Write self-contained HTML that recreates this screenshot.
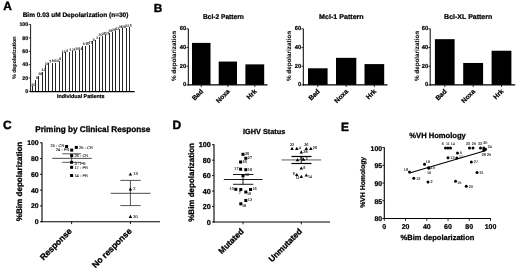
<!DOCTYPE html>
<html><head><meta charset="utf-8"><title>Figure</title>
<style>
html,body{margin:0;padding:0;background:#fff;}
body{width:520px;height:274px;overflow:hidden;font-family:"Liberation Sans",Arial,sans-serif;}
svg{display:block;}
svg text{font-family:"Liberation Sans",Arial,sans-serif;text-rendering:geometricPrecision;}
</style></head><body>
<svg width="520" height="274" viewBox="0 0 520 274">
<rect x="0" y="0" width="520" height="274" fill="#fff"/>
<text x="3.2" y="10.3" font-size="11.9" font-weight="bold" text-anchor="start" fill="#000" stroke="#000" stroke-width="0.417">A</text>
<text x="153.7" y="12.1" font-size="11.8" font-weight="bold" text-anchor="start" fill="#000" stroke="#000" stroke-width="0.413">B</text>
<text x="3.0" y="129.2" font-size="12.0" font-weight="bold" text-anchor="start" fill="#000" stroke="#000" stroke-width="0.420">C</text>
<text x="172.4" y="129.1" font-size="12.0" font-weight="bold" text-anchor="start" fill="#000" stroke="#000" stroke-width="0.420">D</text>
<text x="341.0" y="130.9" font-size="11.9" font-weight="bold" text-anchor="start" fill="#000" stroke="#000" stroke-width="0.417">E</text>
<text x="75.5" y="16.8" font-size="6.5" font-weight="bold" text-anchor="middle" fill="#000" stroke="#000" stroke-width="0.228">Bim 0.03 uM Depolarization (n=30)</text>
<line x1="30.6" y1="24.3" x2="30.6" y2="91.80000000000001" stroke="#000" stroke-width="0.9"/>
<line x1="30.200000000000003" y1="91.5" x2="134.6" y2="91.5" stroke="#000" stroke-width="1.25"/>
<line x1="28.6" y1="91.4" x2="30.6" y2="91.4" stroke="#000" stroke-width="0.7"/>
<text x="28.1" y="93.2" font-size="5.2" font-weight="bold" text-anchor="end" fill="#000" stroke="#000" stroke-width="0.182">0</text>
<line x1="28.6" y1="78.04" x2="30.6" y2="78.04" stroke="#000" stroke-width="0.7"/>
<text x="28.1" y="79.84" font-size="5.2" font-weight="bold" text-anchor="end" fill="#000" stroke="#000" stroke-width="0.182">20</text>
<line x1="28.6" y1="64.68" x2="30.6" y2="64.68" stroke="#000" stroke-width="0.7"/>
<text x="28.1" y="66.48" font-size="5.2" font-weight="bold" text-anchor="end" fill="#000" stroke="#000" stroke-width="0.182">40</text>
<line x1="28.6" y1="51.31999999999999" x2="30.6" y2="51.31999999999999" stroke="#000" stroke-width="0.7"/>
<text x="28.1" y="53.11999999999999" font-size="5.2" font-weight="bold" text-anchor="end" fill="#000" stroke="#000" stroke-width="0.182">60</text>
<line x1="28.6" y1="37.959999999999994" x2="30.6" y2="37.959999999999994" stroke="#000" stroke-width="0.7"/>
<text x="28.1" y="39.75999999999999" font-size="5.2" font-weight="bold" text-anchor="end" fill="#000" stroke="#000" stroke-width="0.182">80</text>
<line x1="28.6" y1="24.599999999999994" x2="30.6" y2="24.599999999999994" stroke="#000" stroke-width="0.7"/>
<text x="28.1" y="26.399999999999995" font-size="5.2" font-weight="bold" text-anchor="end" fill="#000" stroke="#000" stroke-width="0.182">100</text>
<text x="16.5" y="57.8" font-size="5.35" font-weight="bold" text-anchor="middle" fill="#000" transform="rotate(-90 16.5 57.8)" stroke="#000" stroke-width="0.064">% depolarization</text>
<text x="80.8" y="98.2" font-size="5.4" font-weight="bold" text-anchor="middle" fill="#000" stroke="#000" stroke-width="0.189">Individual Patients</text>
<rect x="31.70" y="86.40" width="1" height="5.00" fill="#262626" shape-rendering="crispEdges"/>
<text x="33.5" y="85.60000000000001" font-size="3.5" font-weight="normal" text-anchor="middle" fill="#111" stroke="#111" stroke-width="0.12">30</text>
<rect x="35.05" y="80.20" width="1" height="11.20" fill="#262626" shape-rendering="crispEdges"/>
<text x="36.85" y="79.4" font-size="3.5" font-weight="normal" text-anchor="middle" fill="#111" stroke="#111" stroke-width="0.12">9</text>
<rect x="38.40" y="75.70" width="1" height="15.70" fill="#262626" shape-rendering="crispEdges"/>
<text x="40.2" y="74.9" font-size="3.5" font-weight="normal" text-anchor="middle" fill="#111" stroke="#111" stroke-width="0.12">18</text>
<rect x="41.75" y="71.60" width="1" height="19.80" fill="#262626" shape-rendering="crispEdges"/>
<text x="43.55" y="70.8" font-size="3.5" font-weight="normal" text-anchor="middle" fill="#111" stroke="#111" stroke-width="0.12">12</text>
<rect x="45.10" y="65.30" width="1" height="26.10" fill="#262626" shape-rendering="crispEdges"/>
<text x="46.9" y="64.5" font-size="3.5" font-weight="normal" text-anchor="middle" fill="#111" stroke="#111" stroke-width="0.12">19</text>
<rect x="48.45" y="63.30" width="1" height="28.10" fill="#262626" shape-rendering="crispEdges"/>
<text x="50.25" y="62.5" font-size="3.5" font-weight="normal" text-anchor="middle" fill="#111" stroke="#111" stroke-width="0.12">7</text>
<rect x="51.80" y="63.10" width="1" height="28.30" fill="#262626" shape-rendering="crispEdges"/>
<text x="53.6" y="62.300000000000004" font-size="3.5" font-weight="normal" text-anchor="middle" fill="#111" stroke="#111" stroke-width="0.12">16</text>
<rect x="55.15" y="62.80" width="1" height="28.60" fill="#262626" shape-rendering="crispEdges"/>
<text x="56.95" y="62.0" font-size="3.5" font-weight="normal" text-anchor="middle" fill="#111" stroke="#111" stroke-width="0.12">10</text>
<rect x="58.50" y="61.00" width="1" height="30.40" fill="#262626" shape-rendering="crispEdges"/>
<text x="60.3" y="60.2" font-size="3.5" font-weight="normal" text-anchor="middle" fill="#111" stroke="#111" stroke-width="0.12">8</text>
<rect x="61.85" y="53.40" width="1" height="38.00" fill="#262626" shape-rendering="crispEdges"/>
<text x="63.650000000000006" y="52.6" font-size="3.5" font-weight="normal" text-anchor="middle" fill="#111" stroke="#111" stroke-width="0.12">13</text>
<rect x="65.20" y="52.30" width="1" height="39.10" fill="#262626" shape-rendering="crispEdges"/>
<text x="67.0" y="51.5" font-size="3.5" font-weight="normal" text-anchor="middle" fill="#111" stroke="#111" stroke-width="0.12">4</text>
<rect x="68.55" y="51.70" width="1" height="39.70" fill="#262626" shape-rendering="crispEdges"/>
<text x="70.35000000000001" y="50.900000000000006" font-size="3.5" font-weight="normal" text-anchor="middle" fill="#111" stroke="#111" stroke-width="0.12">1</text>
<rect x="71.90" y="51.30" width="1" height="40.10" fill="#262626" shape-rendering="crispEdges"/>
<text x="73.7" y="50.5" font-size="3.5" font-weight="normal" text-anchor="middle" fill="#111" stroke="#111" stroke-width="0.12">21</text>
<rect x="75.25" y="50.90" width="1" height="40.50" fill="#262626" shape-rendering="crispEdges"/>
<text x="77.05" y="50.1" font-size="3.5" font-weight="normal" text-anchor="middle" fill="#111" stroke="#111" stroke-width="0.12">11</text>
<rect x="78.60" y="50.40" width="1" height="41.00" fill="#262626" shape-rendering="crispEdges"/>
<text x="80.39999999999999" y="49.6" font-size="3.5" font-weight="normal" text-anchor="middle" fill="#111" stroke="#111" stroke-width="0.12">14</text>
<rect x="81.95" y="46.20" width="1" height="45.20" fill="#262626" shape-rendering="crispEdges"/>
<text x="83.75" y="45.400000000000006" font-size="3.5" font-weight="normal" text-anchor="middle" fill="#111" stroke="#111" stroke-width="0.12">6</text>
<rect x="85.30" y="45.60" width="1" height="45.80" fill="#262626" shape-rendering="crispEdges"/>
<text x="87.10000000000001" y="44.800000000000004" font-size="3.5" font-weight="normal" text-anchor="middle" fill="#111" stroke="#111" stroke-width="0.12">15</text>
<rect x="88.65" y="44.80" width="1" height="46.60" fill="#262626" shape-rendering="crispEdges"/>
<text x="90.45" y="44.0" font-size="3.5" font-weight="normal" text-anchor="middle" fill="#111" stroke="#111" stroke-width="0.12">17</text>
<rect x="92.00" y="41.30" width="1" height="50.10" fill="#262626" shape-rendering="crispEdges"/>
<text x="93.8" y="40.5" font-size="3.5" font-weight="normal" text-anchor="middle" fill="#111" stroke="#111" stroke-width="0.12">3</text>
<rect x="95.35" y="39.60" width="1" height="51.80" fill="#262626" shape-rendering="crispEdges"/>
<text x="97.14999999999999" y="38.800000000000004" font-size="3.5" font-weight="normal" text-anchor="middle" fill="#111" stroke="#111" stroke-width="0.12">2</text>
<rect x="98.70" y="36.70" width="1" height="54.70" fill="#262626" shape-rendering="crispEdges"/>
<text x="100.5" y="35.900000000000006" font-size="3.5" font-weight="normal" text-anchor="middle" fill="#111" stroke="#111" stroke-width="0.12">20</text>
<rect x="102.05" y="36.10" width="1" height="55.30" fill="#262626" shape-rendering="crispEdges"/>
<text x="103.85000000000001" y="35.300000000000004" font-size="3.5" font-weight="normal" text-anchor="middle" fill="#111" stroke="#111" stroke-width="0.12">25</text>
<rect x="105.40" y="35.30" width="1" height="56.10" fill="#262626" shape-rendering="crispEdges"/>
<text x="107.2" y="34.5" font-size="3.5" font-weight="normal" text-anchor="middle" fill="#111" stroke="#111" stroke-width="0.12">27</text>
<rect x="108.75" y="32.60" width="1" height="58.80" fill="#262626" shape-rendering="crispEdges"/>
<text x="110.55" y="31.8" font-size="3.5" font-weight="normal" text-anchor="middle" fill="#111" stroke="#111" stroke-width="0.12">28</text>
<rect x="112.10" y="32.00" width="1" height="59.40" fill="#262626" shape-rendering="crispEdges"/>
<text x="113.9" y="31.2" font-size="3.5" font-weight="normal" text-anchor="middle" fill="#111" stroke="#111" stroke-width="0.12">29</text>
<rect x="115.45" y="30.60" width="1" height="60.80" fill="#262626" shape-rendering="crispEdges"/>
<text x="117.25" y="29.8" font-size="3.5" font-weight="normal" text-anchor="middle" fill="#111" stroke="#111" stroke-width="0.12">12</text>
<rect x="118.80" y="28.50" width="1" height="62.90" fill="#262626" shape-rendering="crispEdges"/>
<text x="120.60000000000001" y="27.7" font-size="3.5" font-weight="normal" text-anchor="middle" fill="#111" stroke="#111" stroke-width="0.12">24</text>
<rect x="122.15" y="28.30" width="1" height="63.10" fill="#262626" shape-rendering="crispEdges"/>
<text x="123.95" y="27.5" font-size="3.5" font-weight="normal" text-anchor="middle" fill="#111" stroke="#111" stroke-width="0.12">26</text>
<rect x="125.50" y="27.90" width="1" height="63.50" fill="#262626" shape-rendering="crispEdges"/>
<text x="127.3" y="27.099999999999998" font-size="3.5" font-weight="normal" text-anchor="middle" fill="#111" stroke="#111" stroke-width="0.12">22</text>
<rect x="128.85" y="27.30" width="1" height="64.10" fill="#262626" shape-rendering="crispEdges"/>
<text x="130.65000000000003" y="26.5" font-size="3.5" font-weight="normal" text-anchor="middle" fill="#111" stroke="#111" stroke-width="0.12">5</text>
<text x="223.4" y="19.4" font-size="6.9" font-weight="bold" text-anchor="middle" fill="#000" textLength="40.8" lengthAdjust="spacingAndGlyphs" stroke="#000" stroke-width="0.242">Bcl-2 Pattern</text>
<line x1="188.3" y1="28.599999999999998" x2="188.3" y2="85.4" stroke="#000" stroke-width="1.0"/>
<line x1="187.8" y1="84.9" x2="267.5" y2="84.9" stroke="#000" stroke-width="1.1"/>
<line x1="186.4" y1="84.9" x2="188.3" y2="84.9" stroke="#000" stroke-width="0.8"/>
<text x="186.3" y="86.4" font-size="5.8" font-weight="bold" text-anchor="end" fill="#000" stroke="#000" stroke-width="0.203">0</text>
<line x1="186.4" y1="66.23333333333333" x2="188.3" y2="66.23333333333333" stroke="#000" stroke-width="0.8"/>
<text x="186.3" y="67.73333333333333" font-size="5.8" font-weight="bold" text-anchor="end" fill="#000" stroke="#000" stroke-width="0.203">20</text>
<line x1="186.4" y1="47.56666666666667" x2="188.3" y2="47.56666666666667" stroke="#000" stroke-width="0.8"/>
<text x="186.3" y="49.06666666666667" font-size="5.8" font-weight="bold" text-anchor="end" fill="#000" stroke="#000" stroke-width="0.203">40</text>
<line x1="186.4" y1="28.9" x2="188.3" y2="28.9" stroke="#000" stroke-width="0.8"/>
<text x="186.3" y="30.4" font-size="5.8" font-weight="bold" text-anchor="end" fill="#000" stroke="#000" stroke-width="0.203">60</text>
<text x="176.3" y="56" font-size="6.3" font-weight="bold" text-anchor="middle" fill="#000" transform="rotate(-90 176.3 56)" stroke="#000" stroke-width="0.076">% depolarization</text>
<rect x="192.00" y="42.90" width="18.50" height="42.00" fill="#000"/>
<line x1="201.25" y1="84.9" x2="201.25" y2="87.10000000000001" stroke="#000" stroke-width="0.8"/>
<text x="203.65" y="91.9" font-size="6.7" font-weight="bold" text-anchor="end" fill="#000" transform="rotate(-45 203.65 91.9)" stroke="#000" stroke-width="0.235">Bad</text>
<rect x="218.70" y="61.57" width="18.30" height="23.33" fill="#000"/>
<line x1="227.85" y1="84.9" x2="227.85" y2="87.10000000000001" stroke="#000" stroke-width="0.8"/>
<text x="230.25" y="91.9" font-size="6.7" font-weight="bold" text-anchor="end" fill="#000" transform="rotate(-45 230.25 91.9)" stroke="#000" stroke-width="0.235">Noxa</text>
<rect x="245.40" y="64.37" width="18.80" height="20.53" fill="#000"/>
<line x1="254.8" y1="84.9" x2="254.8" y2="87.10000000000001" stroke="#000" stroke-width="0.8"/>
<text x="257.2" y="91.9" font-size="6.7" font-weight="bold" text-anchor="end" fill="#000" transform="rotate(-45 257.2 91.9)" stroke="#000" stroke-width="0.235">Hrk</text>
<text x="341.4" y="19.4" font-size="6.9" font-weight="bold" text-anchor="middle" fill="#000" textLength="44.6" lengthAdjust="spacingAndGlyphs" stroke="#000" stroke-width="0.242">Mcl-1 Pattern</text>
<line x1="303.3" y1="28.599999999999998" x2="303.3" y2="85.4" stroke="#000" stroke-width="1.0"/>
<line x1="302.8" y1="84.9" x2="387.5" y2="84.9" stroke="#000" stroke-width="1.1"/>
<line x1="301.40000000000003" y1="84.9" x2="303.3" y2="84.9" stroke="#000" stroke-width="0.8"/>
<text x="301.3" y="86.4" font-size="5.8" font-weight="bold" text-anchor="end" fill="#000" stroke="#000" stroke-width="0.203">0</text>
<line x1="301.40000000000003" y1="66.23333333333333" x2="303.3" y2="66.23333333333333" stroke="#000" stroke-width="0.8"/>
<text x="301.3" y="67.73333333333333" font-size="5.8" font-weight="bold" text-anchor="end" fill="#000" stroke="#000" stroke-width="0.203">20</text>
<line x1="301.40000000000003" y1="47.56666666666667" x2="303.3" y2="47.56666666666667" stroke="#000" stroke-width="0.8"/>
<text x="301.3" y="49.06666666666667" font-size="5.8" font-weight="bold" text-anchor="end" fill="#000" stroke="#000" stroke-width="0.203">40</text>
<line x1="301.40000000000003" y1="28.9" x2="303.3" y2="28.9" stroke="#000" stroke-width="0.8"/>
<text x="301.3" y="30.4" font-size="5.8" font-weight="bold" text-anchor="end" fill="#000" stroke="#000" stroke-width="0.203">60</text>
<text x="290.6" y="56" font-size="6.3" font-weight="bold" text-anchor="middle" fill="#000" transform="rotate(-90 290.6 56)" stroke="#000" stroke-width="0.076">% depolarization</text>
<rect x="308.00" y="68.29" width="19.60" height="16.61" fill="#000"/>
<line x1="317.8" y1="84.9" x2="317.8" y2="87.10000000000001" stroke="#000" stroke-width="0.8"/>
<text x="320.2" y="91.9" font-size="6.7" font-weight="bold" text-anchor="end" fill="#000" transform="rotate(-45 320.2 91.9)" stroke="#000" stroke-width="0.235">Bad</text>
<rect x="336.00" y="57.83" width="20.30" height="27.07" fill="#000"/>
<line x1="346.15" y1="84.9" x2="346.15" y2="87.10000000000001" stroke="#000" stroke-width="0.8"/>
<text x="348.54999999999995" y="91.9" font-size="6.7" font-weight="bold" text-anchor="end" fill="#000" transform="rotate(-45 348.54999999999995 91.9)" stroke="#000" stroke-width="0.235">Noxa</text>
<rect x="364.50" y="64.09" width="19.70" height="20.81" fill="#000"/>
<line x1="374.35" y1="84.9" x2="374.35" y2="87.10000000000001" stroke="#000" stroke-width="0.8"/>
<text x="376.75" y="91.9" font-size="6.7" font-weight="bold" text-anchor="end" fill="#000" transform="rotate(-45 376.75 91.9)" stroke="#000" stroke-width="0.235">Hrk</text>
<text x="468.2" y="19.4" font-size="6.9" font-weight="bold" text-anchor="middle" fill="#000" textLength="48.2" lengthAdjust="spacingAndGlyphs" stroke="#000" stroke-width="0.242">Bcl-XL Pattern</text>
<line x1="430.2" y1="28.599999999999998" x2="430.2" y2="85.4" stroke="#000" stroke-width="1.0"/>
<line x1="429.7" y1="84.9" x2="515.2" y2="84.9" stroke="#000" stroke-width="1.1"/>
<line x1="428.3" y1="84.9" x2="430.2" y2="84.9" stroke="#000" stroke-width="0.8"/>
<text x="428.2" y="86.4" font-size="5.8" font-weight="bold" text-anchor="end" fill="#000" stroke="#000" stroke-width="0.203">0</text>
<line x1="428.3" y1="66.23333333333333" x2="430.2" y2="66.23333333333333" stroke="#000" stroke-width="0.8"/>
<text x="428.2" y="67.73333333333333" font-size="5.8" font-weight="bold" text-anchor="end" fill="#000" stroke="#000" stroke-width="0.203">20</text>
<line x1="428.3" y1="47.56666666666667" x2="430.2" y2="47.56666666666667" stroke="#000" stroke-width="0.8"/>
<text x="428.2" y="49.06666666666667" font-size="5.8" font-weight="bold" text-anchor="end" fill="#000" stroke="#000" stroke-width="0.203">40</text>
<line x1="428.3" y1="28.9" x2="430.2" y2="28.9" stroke="#000" stroke-width="0.8"/>
<text x="428.2" y="30.4" font-size="5.8" font-weight="bold" text-anchor="end" fill="#000" stroke="#000" stroke-width="0.203">60</text>
<text x="418.8" y="56" font-size="6.3" font-weight="bold" text-anchor="middle" fill="#000" transform="rotate(-90 418.8 56)" stroke="#000" stroke-width="0.076">% depolarization</text>
<rect x="434.90" y="39.17" width="19.70" height="45.73" fill="#000"/>
<line x1="444.75" y1="84.9" x2="444.75" y2="87.10000000000001" stroke="#000" stroke-width="0.8"/>
<text x="447.15" y="91.9" font-size="6.7" font-weight="bold" text-anchor="end" fill="#000" transform="rotate(-45 447.15 91.9)" stroke="#000" stroke-width="0.235">Bad</text>
<rect x="463.20" y="62.97" width="19.90" height="21.93" fill="#000"/>
<line x1="473.15" y1="84.9" x2="473.15" y2="87.10000000000001" stroke="#000" stroke-width="0.8"/>
<text x="475.54999999999995" y="91.9" font-size="6.7" font-weight="bold" text-anchor="end" fill="#000" transform="rotate(-45 475.54999999999995 91.9)" stroke="#000" stroke-width="0.235">Noxa</text>
<rect x="491.60" y="50.74" width="19.80" height="34.16" fill="#000"/>
<line x1="501.5" y1="84.9" x2="501.5" y2="87.10000000000001" stroke="#000" stroke-width="0.8"/>
<text x="503.9" y="91.9" font-size="6.7" font-weight="bold" text-anchor="end" fill="#000" transform="rotate(-45 503.9 91.9)" stroke="#000" stroke-width="0.235">Hrk</text>
<text x="92.8" y="131.6" font-size="8.3" font-weight="bold" text-anchor="middle" fill="#000" textLength="115.2" lengthAdjust="spacingAndGlyphs" stroke="#000" stroke-width="0.291">Priming by Clinical Response</text>
<line x1="42.0" y1="142.4" x2="42.0" y2="222.2" stroke="#000" stroke-width="1.1"/>
<line x1="41.5" y1="221.7" x2="160" y2="221.7" stroke="#000" stroke-width="1.1"/>
<line x1="40.0" y1="221.7" x2="42.0" y2="221.7" stroke="#000" stroke-width="0.9"/>
<text x="38.7" y="224.2" font-size="6.9" font-weight="bold" text-anchor="end" fill="#000" stroke="#000" stroke-width="0.242">0</text>
<line x1="40.0" y1="205.92" x2="42.0" y2="205.92" stroke="#000" stroke-width="0.9"/>
<text x="38.7" y="208.42" font-size="6.9" font-weight="bold" text-anchor="end" fill="#000" stroke="#000" stroke-width="0.242">20</text>
<line x1="40.0" y1="190.14" x2="42.0" y2="190.14" stroke="#000" stroke-width="0.9"/>
<text x="38.7" y="192.64" font-size="6.9" font-weight="bold" text-anchor="end" fill="#000" stroke="#000" stroke-width="0.242">40</text>
<line x1="40.0" y1="174.36" x2="42.0" y2="174.36" stroke="#000" stroke-width="0.9"/>
<text x="38.7" y="176.86" font-size="6.9" font-weight="bold" text-anchor="end" fill="#000" stroke="#000" stroke-width="0.242">60</text>
<line x1="40.0" y1="158.58" x2="42.0" y2="158.58" stroke="#000" stroke-width="0.9"/>
<text x="38.7" y="161.08" font-size="6.9" font-weight="bold" text-anchor="end" fill="#000" stroke="#000" stroke-width="0.242">80</text>
<line x1="40.0" y1="142.8" x2="42.0" y2="142.8" stroke="#000" stroke-width="0.9"/>
<text x="38.7" y="145.3" font-size="6.9" font-weight="bold" text-anchor="end" fill="#000" stroke="#000" stroke-width="0.242">100</text>
<text x="22.0" y="181.5" font-size="8.1" font-weight="bold" text-anchor="middle" fill="#000" transform="rotate(-90 22.0 181.5)" stroke="#000" stroke-width="0.284">%Bim depolarization</text>
<line x1="52.2" y1="158.35" x2="91.7" y2="158.35" stroke="#2a2a2a" stroke-width="0.85"/>
<line x1="62.3" y1="153.8" x2="81" y2="153.8" stroke="#2a2a2a" stroke-width="0.8"/>
<line x1="62.3" y1="162.3" x2="81" y2="162.3" stroke="#2a2a2a" stroke-width="0.8"/>
<line x1="71.6" y1="153.8" x2="71.6" y2="162.3" stroke="#2a2a2a" stroke-width="0.8"/>
<rect x="65.10" y="145.00" width="3.00" height="3.00" fill="#000"/>
<text x="64.3" y="147.4" font-size="4.0" font-weight="normal" text-anchor="end" fill="#222" stroke="#222" stroke-width="0.1">25 - CR</text>
<rect x="74.80" y="145.90" width="3.00" height="3.00" fill="#000"/>
<text x="79.1" y="148.8" font-size="4.0" font-weight="normal" text-anchor="start" fill="#222" stroke="#222" stroke-width="0.1">26 - CR</text>
<rect x="70.20" y="148.60" width="3.00" height="3.00" fill="#000"/>
<text x="69.39999999999999" y="151.0" font-size="4.0" font-weight="normal" text-anchor="end" fill="#222" stroke="#222" stroke-width="0.1">24 - PR</text>
<rect x="70.10" y="154.10" width="3.00" height="3.00" fill="#000"/>
<text x="74.39999999999999" y="157.0" font-size="4.0" font-weight="normal" text-anchor="start" fill="#222" stroke="#222" stroke-width="0.1">28 - CR</text>
<rect x="70.10" y="160.80" width="3.00" height="3.00" fill="#000"/>
<text x="74.39999999999999" y="164.9" font-size="4.0" font-weight="normal" text-anchor="start" fill="#222" stroke="#222" stroke-width="0.1">3 - PR</text>
<rect x="70.10" y="165.80" width="3.00" height="3.00" fill="#000"/>
<text x="74.39999999999999" y="168.70000000000002" font-size="4.0" font-weight="normal" text-anchor="start" fill="#222" stroke="#222" stroke-width="0.1">17 - PR</text>
<rect x="70.10" y="174.00" width="3.00" height="3.00" fill="#000"/>
<text x="74.39999999999999" y="176.9" font-size="4.0" font-weight="normal" text-anchor="start" fill="#222" stroke="#222" stroke-width="0.1">14 - PR</text>
<line x1="110.8" y1="193.3" x2="150.5" y2="193.3" stroke="#2a2a2a" stroke-width="0.85"/>
<line x1="120.3" y1="180.4" x2="140.6" y2="180.4" stroke="#2a2a2a" stroke-width="0.8"/>
<line x1="120.3" y1="205.6" x2="140.6" y2="205.6" stroke="#2a2a2a" stroke-width="0.8"/>
<line x1="130.4" y1="180.4" x2="130.4" y2="205.6" stroke="#2a2a2a" stroke-width="0.8"/>
<polygon points="130.40,172.43 128.65,175.57 132.15,175.57" fill="#000"/>
<text x="133.3" y="175.2" font-size="4.0" font-weight="normal" text-anchor="start" fill="#222" stroke="#222" stroke-width="0.1">13</text>
<polygon points="130.40,187.23 128.65,190.38 132.15,190.38" fill="#000"/>
<text x="133.3" y="190.0" font-size="4.0" font-weight="normal" text-anchor="start" fill="#222" stroke="#222" stroke-width="0.1">2</text>
<polygon points="130.40,214.73 128.65,217.88 132.15,217.88" fill="#000"/>
<text x="133.3" y="217.5" font-size="4.0" font-weight="normal" text-anchor="start" fill="#222" stroke="#222" stroke-width="0.1">30</text>
<line x1="71.6" y1="221.7" x2="71.6" y2="224.1" stroke="#000" stroke-width="0.9"/>
<text x="72.5" y="231.7" font-size="8.6" font-weight="bold" text-anchor="end" fill="#000" transform="rotate(-45 72.5 231.7)" stroke="#000" stroke-width="0.301">Response</text>
<line x1="130.4" y1="221.7" x2="130.4" y2="224.1" stroke="#000" stroke-width="0.9"/>
<text x="132.3" y="231.7" font-size="8.6" font-weight="bold" text-anchor="end" fill="#000" transform="rotate(-45 132.3 231.7)" stroke="#000" stroke-width="0.301">No response</text>
<text x="264.2" y="134.0" font-size="7.3" font-weight="bold" text-anchor="middle" fill="#000" textLength="42.2" lengthAdjust="spacingAndGlyphs" stroke="#000" stroke-width="0.256">IGHV Status</text>
<line x1="214.0" y1="144.29999999999998" x2="214.0" y2="222.5" stroke="#000" stroke-width="1.1"/>
<line x1="213.5" y1="222.0" x2="330" y2="222.0" stroke="#000" stroke-width="1.1"/>
<line x1="212.0" y1="222.0" x2="214.0" y2="222.0" stroke="#000" stroke-width="0.9"/>
<text x="210.8" y="224.6" font-size="7.2" font-weight="bold" text-anchor="end" fill="#000" stroke="#000" stroke-width="0.252">0</text>
<line x1="212.0" y1="206.54" x2="214.0" y2="206.54" stroke="#000" stroke-width="0.9"/>
<text x="210.8" y="209.14" font-size="7.2" font-weight="bold" text-anchor="end" fill="#000" stroke="#000" stroke-width="0.252">20</text>
<line x1="212.0" y1="191.07999999999998" x2="214.0" y2="191.07999999999998" stroke="#000" stroke-width="0.9"/>
<text x="210.8" y="193.67999999999998" font-size="7.2" font-weight="bold" text-anchor="end" fill="#000" stroke="#000" stroke-width="0.252">40</text>
<line x1="212.0" y1="175.62" x2="214.0" y2="175.62" stroke="#000" stroke-width="0.9"/>
<text x="210.8" y="178.22" font-size="7.2" font-weight="bold" text-anchor="end" fill="#000" stroke="#000" stroke-width="0.252">60</text>
<line x1="212.0" y1="160.16" x2="214.0" y2="160.16" stroke="#000" stroke-width="0.9"/>
<text x="210.8" y="162.76" font-size="7.2" font-weight="bold" text-anchor="end" fill="#000" stroke="#000" stroke-width="0.252">80</text>
<line x1="212.0" y1="144.7" x2="214.0" y2="144.7" stroke="#000" stroke-width="0.9"/>
<text x="210.8" y="147.29999999999998" font-size="7.2" font-weight="bold" text-anchor="end" fill="#000" stroke="#000" stroke-width="0.252">100</text>
<text x="194.2" y="182.4" font-size="8.0" font-weight="bold" text-anchor="middle" fill="#000" transform="rotate(-90 194.2 182.4)" stroke="#000" stroke-width="0.280">%Bim depolarization</text>
<line x1="223.8" y1="179.5" x2="262.5" y2="179.5" stroke="#000" stroke-width="0.9"/>
<line x1="233" y1="174.5" x2="253.3" y2="174.5" stroke="#000" stroke-width="0.9"/>
<line x1="233" y1="184.3" x2="253.3" y2="184.3" stroke="#000" stroke-width="0.9"/>
<line x1="243" y1="174.5" x2="243" y2="184.3" stroke="#000" stroke-width="0.9"/>
<rect x="241.50" y="152.80" width="3.00" height="3.00" fill="#000"/>
<text x="245.0" y="155.10000000000002" font-size="3.8" font-weight="normal" text-anchor="start" fill="#222" stroke="#222" stroke-width="0.1">25</text>
<rect x="244.30" y="156.80" width="3.00" height="3.00" fill="#000"/>
<text x="247.8" y="159.10000000000002" font-size="3.8" font-weight="normal" text-anchor="start" fill="#222" stroke="#222" stroke-width="0.1">27</text>
<rect x="239.10" y="160.50" width="3.00" height="3.00" fill="#000"/>
<text x="242.6" y="162.8" font-size="3.8" font-weight="normal" text-anchor="start" fill="#222" stroke="#222" stroke-width="0.1">20</text>
<rect x="239.10" y="167.70" width="3.00" height="3.00" fill="#000"/>
<text x="238.6" y="169.79999999999998" font-size="3.8" font-weight="normal" text-anchor="end" fill="#222" stroke="#222" stroke-width="0.1">17</text>
<rect x="244.30" y="168.20" width="3.00" height="3.00" fill="#000"/>
<text x="247.8" y="170.5" font-size="3.8" font-weight="normal" text-anchor="start" fill="#222" stroke="#222" stroke-width="0.1">15</text>
<rect x="241.50" y="174.10" width="3.00" height="3.00" fill="#000"/>
<text x="245.0" y="176.4" font-size="3.8" font-weight="normal" text-anchor="start" fill="#222" stroke="#222" stroke-width="0.1">13</text>
<rect x="234.30" y="187.80" width="3.00" height="3.00" fill="#000"/>
<text x="233.8" y="189.9" font-size="3.8" font-weight="normal" text-anchor="end" fill="#222" stroke="#222" stroke-width="0.1">10</text>
<rect x="239.30" y="188.00" width="3.00" height="3.00" fill="#000"/>
<text x="239.8" y="194.1" font-size="3.8" font-weight="normal" text-anchor="middle" fill="#222" stroke="#222" stroke-width="0.1">7</text>
<rect x="244.30" y="190.50" width="3.00" height="3.00" fill="#000"/>
<text x="247.0" y="195.4" font-size="3.8" font-weight="normal" text-anchor="start" fill="#222" stroke="#222" stroke-width="0.1">19</text>
<rect x="249.00" y="188.00" width="3.00" height="3.00" fill="#000"/>
<text x="252.5" y="190.3" font-size="3.8" font-weight="normal" text-anchor="start" fill="#222" stroke="#222" stroke-width="0.1">16</text>
<rect x="244.30" y="199.00" width="3.00" height="3.00" fill="#000"/>
<text x="247.8" y="201.3" font-size="3.8" font-weight="normal" text-anchor="start" fill="#222" stroke="#222" stroke-width="0.1">12</text>
<rect x="239.30" y="202.30" width="3.00" height="3.00" fill="#000"/>
<text x="242.0" y="207.20000000000002" font-size="3.8" font-weight="normal" text-anchor="start" fill="#222" stroke="#222" stroke-width="0.1">18</text>
<line x1="281.5" y1="159.95" x2="321.2" y2="159.95" stroke="#333" stroke-width="0.8"/>
<line x1="291.5" y1="156.5" x2="311.5" y2="156.5" stroke="#000" stroke-width="1.2"/>
<line x1="291.5" y1="163.5" x2="311.5" y2="163.5" stroke="#000" stroke-width="1.2"/>
<line x1="301.3" y1="156.5" x2="301.3" y2="163.5" stroke="#000" stroke-width="0.9"/>
<polygon points="292.00,146.73 290.25,149.88 293.75,149.88" fill="#000"/>
<text x="292" y="146.10000000000002" font-size="3.8" font-weight="normal" text-anchor="middle" fill="#222" stroke="#222" stroke-width="0.1">22</text>
<polygon points="296.80,146.73 295.05,149.88 298.55,149.88" fill="#000"/>
<text x="298.8" y="149.10000000000002" font-size="3.8" font-weight="normal" text-anchor="start" fill="#222" stroke="#222" stroke-width="0.1">4</text>
<polygon points="306.30,146.73 304.55,149.88 308.05,149.88" fill="#000"/>
<text x="306.3" y="146.10000000000002" font-size="3.8" font-weight="normal" text-anchor="middle" fill="#222" stroke="#222" stroke-width="0.1">26</text>
<polygon points="310.80,146.73 309.05,149.88 312.55,149.88" fill="#000"/>
<text x="312.8" y="149.10000000000002" font-size="3.8" font-weight="normal" text-anchor="start" fill="#222" stroke="#222" stroke-width="0.1">25</text>
<polygon points="301.30,150.23 299.55,153.38 303.05,153.38" fill="#000"/>
<text x="303.3" y="152.60000000000002" font-size="3.8" font-weight="normal" text-anchor="start" fill="#222" stroke="#222" stroke-width="0.1">28</text>
<polygon points="297.50,158.03 295.75,161.17 299.25,161.17" fill="#000"/>
<text x="299.5" y="160.4" font-size="3.8" font-weight="normal" text-anchor="start" fill="#222" stroke="#222" stroke-width="0.1">24</text>
<polygon points="303.50,157.62 301.75,160.77 305.25,160.77" fill="#000"/>
<text x="305.5" y="160.0" font-size="3.8" font-weight="normal" text-anchor="start" fill="#222" stroke="#222" stroke-width="0.1">3</text>
<polygon points="301.30,166.43 299.55,169.57 303.05,169.57" fill="#000"/>
<text x="303.3" y="168.8" font-size="3.8" font-weight="normal" text-anchor="start" fill="#222" stroke="#222" stroke-width="0.1">5</text>
<polygon points="296.80,172.93 295.05,176.07 298.55,176.07" fill="#000"/>
<text x="294.8" y="175.3" font-size="3.8" font-weight="normal" text-anchor="end" fill="#222" stroke="#222" stroke-width="0.1">6</text>
<polygon points="301.30,174.73 299.55,177.88 303.05,177.88" fill="#000"/>
<text x="299.7" y="179.3" font-size="3.8" font-weight="normal" text-anchor="end" fill="#222" stroke="#222" stroke-width="0.1">11</text>
<polygon points="306.30,173.43 304.55,176.57 308.05,176.57" fill="#000"/>
<text x="307.90000000000003" y="178.0" font-size="3.8" font-weight="normal" text-anchor="start" fill="#222" stroke="#222" stroke-width="0.1">14</text>
<line x1="243" y1="222.0" x2="243" y2="224.4" stroke="#000" stroke-width="0.9"/>
<text x="244.3" y="231.9" font-size="8.3" font-weight="bold" text-anchor="end" fill="#000" transform="rotate(-45 244.3 231.9)" stroke="#000" stroke-width="0.291">Mutated</text>
<line x1="301.3" y1="222.0" x2="301.3" y2="224.4" stroke="#000" stroke-width="0.9"/>
<text x="302.6" y="231.9" font-size="8.3" font-weight="bold" text-anchor="end" fill="#000" transform="rotate(-45 302.6 231.9)" stroke="#000" stroke-width="0.291">Unmutated</text>
<text x="437.6" y="137.8" font-size="7.6" font-weight="bold" text-anchor="middle" fill="#000" stroke="#000" stroke-width="0.266">%VH Homology</text>
<line x1="384.3" y1="147.2" x2="384.3" y2="219.0" stroke="#000" stroke-width="1.1"/>
<line x1="383.8" y1="218.5" x2="490.9" y2="218.5" stroke="#000" stroke-width="1.1"/>
<line x1="382.3" y1="218.5" x2="384.3" y2="218.5" stroke="#000" stroke-width="0.9"/>
<text x="382.1" y="221.4" font-size="6.9" font-weight="bold" text-anchor="end" fill="#000" stroke="#000" stroke-width="0.242">80</text>
<line x1="382.3" y1="200.775" x2="384.3" y2="200.775" stroke="#000" stroke-width="0.9"/>
<text x="382.1" y="203.675" font-size="6.9" font-weight="bold" text-anchor="end" fill="#000" stroke="#000" stroke-width="0.242">85</text>
<line x1="382.3" y1="183.05" x2="384.3" y2="183.05" stroke="#000" stroke-width="0.9"/>
<text x="382.1" y="185.95000000000002" font-size="6.9" font-weight="bold" text-anchor="end" fill="#000" stroke="#000" stroke-width="0.242">90</text>
<line x1="382.3" y1="165.325" x2="384.3" y2="165.325" stroke="#000" stroke-width="0.9"/>
<text x="382.1" y="168.225" font-size="6.9" font-weight="bold" text-anchor="end" fill="#000" stroke="#000" stroke-width="0.242">95</text>
<line x1="382.3" y1="147.6" x2="384.3" y2="147.6" stroke="#000" stroke-width="0.9"/>
<text x="382.1" y="150.5" font-size="6.9" font-weight="bold" text-anchor="end" fill="#000" stroke="#000" stroke-width="0.242">100</text>
<line x1="384.3" y1="218.5" x2="384.3" y2="220.8" stroke="#000" stroke-width="0.9"/>
<text x="384.3" y="228.6" font-size="7.0" font-weight="bold" text-anchor="middle" fill="#000" stroke="#000" stroke-width="0.245">0</text>
<line x1="405.54" y1="218.5" x2="405.54" y2="220.8" stroke="#000" stroke-width="0.9"/>
<text x="405.54" y="228.6" font-size="7.0" font-weight="bold" text-anchor="middle" fill="#000" stroke="#000" stroke-width="0.245">20</text>
<line x1="426.78" y1="218.5" x2="426.78" y2="220.8" stroke="#000" stroke-width="0.9"/>
<text x="426.78" y="228.6" font-size="7.0" font-weight="bold" text-anchor="middle" fill="#000" stroke="#000" stroke-width="0.245">40</text>
<line x1="448.02" y1="218.5" x2="448.02" y2="220.8" stroke="#000" stroke-width="0.9"/>
<text x="448.02" y="228.6" font-size="7.0" font-weight="bold" text-anchor="middle" fill="#000" stroke="#000" stroke-width="0.245">60</text>
<line x1="469.26" y1="218.5" x2="469.26" y2="220.8" stroke="#000" stroke-width="0.9"/>
<text x="469.26" y="228.6" font-size="7.0" font-weight="bold" text-anchor="middle" fill="#000" stroke="#000" stroke-width="0.245">80</text>
<line x1="490.5" y1="218.5" x2="490.5" y2="220.8" stroke="#000" stroke-width="0.9"/>
<text x="490.5" y="228.6" font-size="7.0" font-weight="bold" text-anchor="middle" fill="#000" stroke="#000" stroke-width="0.245">100</text>
<text x="437.5" y="239.8" font-size="7.5" font-weight="bold" text-anchor="middle" fill="#000" stroke="#000" stroke-width="0.263">%Bim depolarization</text>
<text x="365.1" y="182.3" font-size="6.85" font-weight="bold" text-anchor="middle" fill="#000" transform="rotate(-90 365.1 182.3)" stroke="#000" stroke-width="0.240">%VH Homology</text>
<line x1="409.5" y1="173.0" x2="486.0" y2="150.5" stroke="#000" stroke-width="1.1"/>
<circle cx="409.50" cy="172.00" r="1.5" fill="#000"/>
<text x="405.9" y="171.0" font-size="3.7" font-weight="normal" text-anchor="middle" fill="#222" stroke="#222" stroke-width="0.1">18</text>
<circle cx="413.80" cy="178.30" r="1.5" fill="#000"/>
<text x="418.2" y="179.5" font-size="3.7" font-weight="normal" text-anchor="middle" fill="#222" stroke="#222" stroke-width="0.1">12</text>
<circle cx="424.50" cy="164.30" r="1.5" fill="#000"/>
<text x="427.9" y="162.9" font-size="3.7" font-weight="normal" text-anchor="middle" fill="#222" stroke="#222" stroke-width="0.1">19</text>
<circle cx="428.50" cy="167.70" r="1.5" fill="#000"/>
<text x="432.9" y="169.1" font-size="3.7" font-weight="normal" text-anchor="middle" fill="#222" stroke="#222" stroke-width="0.1">10</text>
<circle cx="429.00" cy="168.30" r="1.5" fill="#000"/>
<text x="429.0" y="173.5" font-size="3.7" font-weight="normal" text-anchor="middle" fill="#222" stroke="#222" stroke-width="0.1">16</text>
<circle cx="428.00" cy="182.00" r="1.5" fill="#000"/>
<text x="431.6" y="183.3" font-size="3.7" font-weight="normal" text-anchor="middle" fill="#222" stroke="#222" stroke-width="0.1">2</text>
<circle cx="445.50" cy="148.00" r="1.5" fill="#000"/>
<text x="442.8" y="145.0" font-size="3.7" font-weight="normal" text-anchor="middle" fill="#222" stroke="#222" stroke-width="0.1">6</text>
<circle cx="448.00" cy="148.00" r="1.5" fill="#000"/>
<text x="447.8" y="145.0" font-size="3.7" font-weight="normal" text-anchor="middle" fill="#222" stroke="#222" stroke-width="0.1">11</text>
<circle cx="450.50" cy="148.00" r="1.5" fill="#000"/>
<text x="452.8" y="145.0" font-size="3.7" font-weight="normal" text-anchor="middle" fill="#222" stroke="#222" stroke-width="0.1">14</text>
<circle cx="448.00" cy="157.80" r="1.5" fill="#000"/>
<text x="452.4" y="159.10000000000002" font-size="3.7" font-weight="normal" text-anchor="middle" fill="#222" stroke="#222" stroke-width="0.1">13</text>
<circle cx="457.50" cy="152.90" r="1.5" fill="#000"/>
<text x="460.9" y="153.9" font-size="3.7" font-weight="normal" text-anchor="middle" fill="#222" stroke="#222" stroke-width="0.1">5</text>
<circle cx="456.80" cy="158.00" r="1.5" fill="#000"/>
<text x="461.0" y="157.7" font-size="3.7" font-weight="normal" text-anchor="middle" fill="#222" stroke="#222" stroke-width="0.1">17</text>
<circle cx="455.50" cy="181.30" r="1.5" fill="#000"/>
<text x="459.3" y="183.9" font-size="3.7" font-weight="normal" text-anchor="middle" fill="#222" stroke="#222" stroke-width="0.1">15</text>
<circle cx="466.30" cy="186.30" r="1.5" fill="#000"/>
<text x="470.90000000000003" y="187.60000000000002" font-size="3.7" font-weight="normal" text-anchor="middle" fill="#222" stroke="#222" stroke-width="0.1">20</text>
<circle cx="471.30" cy="162.00" r="1.5" fill="#000"/>
<text x="475.90000000000003" y="163.3" font-size="3.7" font-weight="normal" text-anchor="middle" fill="#222" stroke="#222" stroke-width="0.1">27</text>
<circle cx="477.00" cy="172.50" r="1.5" fill="#000"/>
<text x="481.6" y="173.8" font-size="3.7" font-weight="normal" text-anchor="middle" fill="#222" stroke="#222" stroke-width="0.1">21</text>
<circle cx="469.50" cy="148.00" r="1.5" fill="#000"/>
<text x="468.0" y="145.0" font-size="3.7" font-weight="normal" text-anchor="middle" fill="#222" stroke="#222" stroke-width="0.1">23</text>
<circle cx="473.00" cy="148.00" r="1.5" fill="#000"/>
<text x="473.9" y="145.0" font-size="3.7" font-weight="normal" text-anchor="middle" fill="#222" stroke="#222" stroke-width="0.1">26</text>
<circle cx="480.50" cy="148.00" r="1.5" fill="#000"/>
<text x="480.2" y="145.0" font-size="3.7" font-weight="normal" text-anchor="middle" fill="#222" stroke="#222" stroke-width="0.1">22</text>
<circle cx="483.80" cy="148.00" r="1.5" fill="#000"/>
<text x="485.2" y="144.2" font-size="3.7" font-weight="normal" text-anchor="middle" fill="#222" stroke="#222" stroke-width="0.1">30</text>
<circle cx="485.50" cy="149.30" r="1.5" fill="#000"/>
<text x="489.8" y="148.10000000000002" font-size="3.7" font-weight="normal" text-anchor="middle" fill="#222" stroke="#222" stroke-width="0.1">24</text>
<circle cx="483.80" cy="150.00" r="1.5" fill="#000"/>
<text x="486.40000000000003" y="155.6" font-size="3.7" font-weight="normal" text-anchor="middle" fill="#222" stroke="#222" stroke-width="0.1">28 25</text>
</svg>
</body></html>
